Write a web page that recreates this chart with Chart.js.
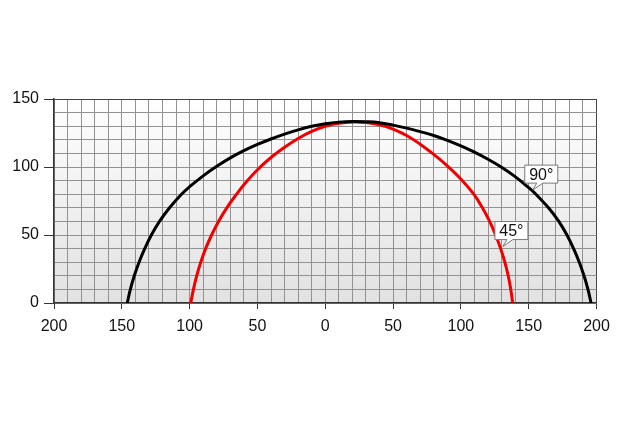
<!DOCTYPE html>
<html>
<head>
<meta charset="utf-8">
<script src="https://cdn.jsdelivr.net/npm/chart.js@4/dist/chart.umd.min.js"></script>
<style>
  html, body { margin: 0; padding: 0; background: #ffffff; }
  #wrap { width: 625px; height: 430px; position: relative; }
</style>
</head>
<body>
<div id="wrap"><canvas id="c" width="625" height="430"></canvas></div>
<script>
// ---- data ----
const seriesNames = ['90°', '45°'];

const beam90X = [-146, -143.7, -140.8, -137.3, -133.1, -128.2, -122.2, -114.8, -106, -100, -90, -80, -70, -60, -50, -40, -30, -20, -10, 0, 10, 20, 30, 40, 50, 60, 70, 80, 90, 100, 110, 120, 130, 140, 150, 155, 164.6, 172.2, 178.2, 183.1, 187.3, 190.8, 193.7, 196];
const beam90Y = [0, 10, 20, 30, 40, 50, 60, 70, 80, 85.5, 93.5, 100.5, 106.7, 112, 116.6, 120.6, 124.2, 127.3, 129.9, 131.8, 133, 133.5, 133.3, 132.6, 130.8, 128.6, 126, 123.2, 119.6, 115.5, 110.9, 105.7, 99.8, 92.9, 84.8, 80.3, 70, 60, 50, 40, 30, 20, 10, 0];

const beam45X = [-99.2, -97.2, -94.8, -91.8, -88.2, -83.8, -78.7, -72.6, -65.4, -60, -50, -40, -30, -20, -10, 0, 10, 20, 30, 40, 50, 60, 70, 80, 90, 100, 109.5, 115.9, 121.2, 125.6, 129.3, 132.4, 134.9, 136.8, 138.2];
const beam45Y = [0, 10, 20, 30, 40, 50, 60, 70, 80, 87, 98, 107, 114.5, 121, 126.2, 130, 132.1, 133, 132.7, 131.1, 127.9, 123.2, 116.8, 109.3, 100.9, 91.2, 80, 70, 60, 50, 40, 30, 20, 10, 0];

// callout labels: text and the data point the pointer touches
const calloutText = ['90°', '45°'];
const calloutX = [153, 131];
const calloutY = [83, 41.5];

// axes
const xMin = -200, xMax = 200, xGridStep = 10, xLabelStep = 50;
const yMin = 0, yMax = 150, yGridStep = 10, yLabelStep = 50;

function toPoints(xs, ys) { return xs.map((x, i) => ({ x: x, y: ys[i] })); }

Chart.defaults.font.family = "'Liberation Sans', Arial, Helvetica, sans-serif";
Chart.defaults.font.size = 16;
Chart.defaults.color = '#111111';

const bgPlugin = {
  id: 'plotBg',
  beforeDraw(chart) {
    const { ctx, chartArea: a } = chart;
    const g = ctx.createLinearGradient(0, a.top, 0, a.bottom);
    g.addColorStop(0, '#ffffff');
    g.addColorStop(1, '#e1e1e1');
    ctx.save();
    ctx.fillStyle = g;
    ctx.fillRect(a.left, a.top, a.right - a.left, a.bottom - a.top);
    ctx.restore();
  }
};

const calloutPlugin = {
  id: 'callouts',
  afterDatasetsDraw(chart) {
    const { ctx, scales } = chart;
    ctx.save();
    ctx.font = "16px 'Liberation Sans', Arial, sans-serif";
    calloutText.forEach((t, i) => {
      const tx = scales.x.getPixelForValue(calloutX[i]);
      const ty = scales.y.getPixelForValue(calloutY[i]);
      const w = 33, h = 18;
      const left = tx - 8, bottom = ty - 7, top = bottom - h;
      ctx.beginPath();
      ctx.moveTo(left, top);
      ctx.lineTo(left + w, top);
      ctx.lineTo(left + w, bottom);
      ctx.lineTo(tx + 10, bottom);
      ctx.lineTo(tx, ty);
      ctx.lineTo(tx + 4, bottom);
      ctx.lineTo(left, bottom);
      ctx.closePath();
      ctx.fillStyle = '#ffffff';
      ctx.fill();
      ctx.strokeStyle = '#7a7a7a';
      ctx.lineWidth = 1;
      ctx.stroke();
      ctx.fillStyle = '#111111';
      ctx.textAlign = 'center';
      ctx.textBaseline = 'middle';
      ctx.fillText(t, left + w / 2, top + h / 2 + 1);
    });
    ctx.restore();
  }
};

new Chart(document.getElementById('c'), {
  type: 'scatter',
  data: {
    datasets: [
      {
        label: seriesNames[0],
        data: toPoints(beam90X, beam90Y),
        showLine: true,
        borderColor: '#000000',
        borderWidth: 3,
        pointRadius: 0,
        tension: 0.4,
        fill: false
      },
      {
        label: seriesNames[1],
        data: toPoints(beam45X, beam45Y),
        showLine: true,
        borderColor: '#f20000',
        borderWidth: 3,
        pointRadius: 0,
        tension: 0.4,
        fill: false
      }
    ]
  },
  options: {
    responsive: false,
    animation: false,
    layout: { padding: { top: 99, right: 28.5, left: 0, bottom: 0 } },
    plugins: { legend: { display: false }, tooltip: { enabled: false } },
    scales: {
      x: {
        type: 'linear',
        min: xMin, max: xMax,
        afterFit(s) { s.height = 127; },
        ticks: {
          stepSize: xGridStep,
          autoSkip: false,
          maxRotation: 0,
          padding: 8,
          color: '#111111',
          callback: v => (v % xLabelStep === 0 ? String(Math.abs(v)) : '')
        },
        grid: {
          color: c => (c.tick && c.tick.value === xMax ? '#444444' : '#929292'),
          lineWidth: 1,
          tickLength: 6,
          tickColor: c => (c.tick && c.tick.value % xLabelStep === 0 ? '#333333' : 'rgba(0,0,0,0)')
        },
        border: { color: '#333333', width: 1.5 }
      },
      y: {
        type: 'linear',
        min: yMin, max: yMax,
        afterFit(s) { s.width = 54; },
        ticks: {
          stepSize: yGridStep,
          autoSkip: false,
          padding: 5,
          color: '#111111',
          callback: v => (v % yLabelStep === 0 ? String(v) : '')
        },
        grid: {
          color: c => (c.tick && c.tick.value === yMax ? '#444444' : '#929292'),
          lineWidth: 1,
          tickLength: 10,
          tickColor: c => (c.tick && c.tick.value % yLabelStep === 0 ? '#333333' : 'rgba(0,0,0,0)')
        },
        border: { color: '#333333', width: 1.5 }
      }
    }
  },
  plugins: [bgPlugin, calloutPlugin]
});
</script>
</body>
</html>
